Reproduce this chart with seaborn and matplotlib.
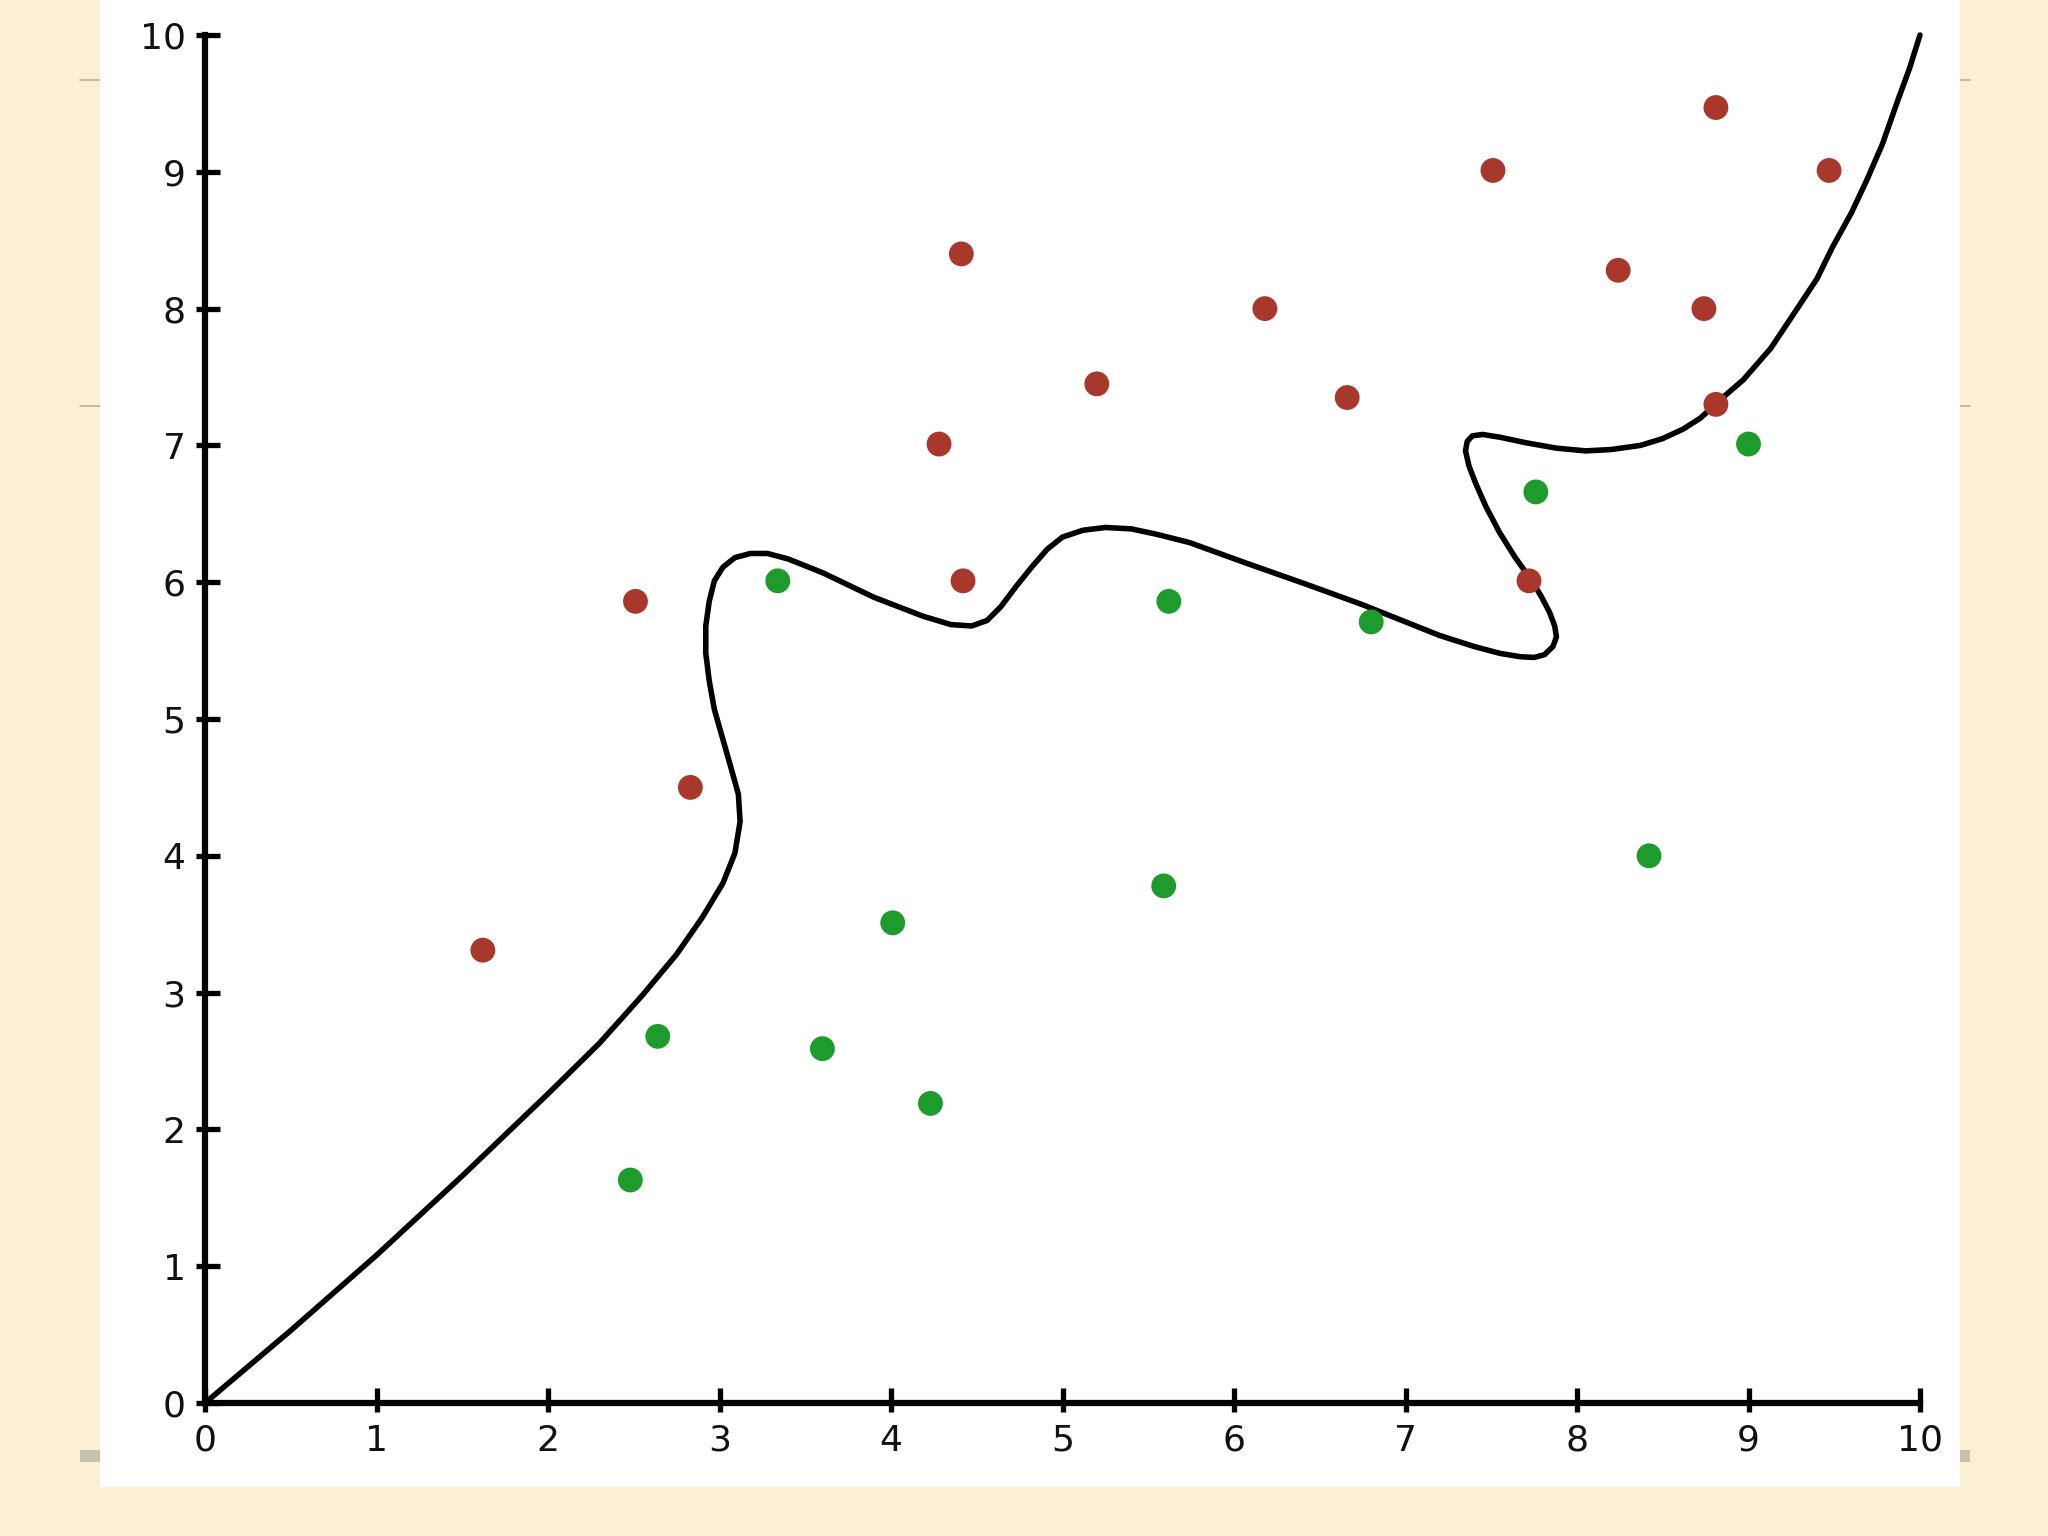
import matplotlib
matplotlib.use("Agg")
import matplotlib.pyplot as plt
from matplotlib.patches import Rectangle
from matplotlib.lines import Line2D
from matplotlib.ticker import FixedLocator
import seaborn as sns
import pandas as pd

# ---------------- data ----------------
red_x = [1.62, 2.51, 2.83, 4.41, 4.28, 4.42, 5.20, 6.18, 6.66, 7.51, 7.72, 8.24, 8.74, 8.81, 8.81, 9.47]
red_y = [3.31, 5.86, 4.50, 8.40, 7.01, 6.01, 7.45, 8.00, 7.35, 9.01, 6.01, 8.28, 8.00, 9.47, 7.30, 9.01]

green_x = [2.48, 2.64, 3.34, 3.60, 4.01, 4.23, 5.59, 5.62, 6.80, 7.76, 8.42, 9.00]
green_y = [1.63, 2.68, 6.01, 2.59, 3.51, 2.19, 3.78, 5.86, 5.71, 6.66, 4.00, 7.01]

# decision boundary (in drawing order)
curve_x = [0.00, 0.50, 1.00, 1.50, 2.00, 2.30, 2.55, 2.75, 2.90, 3.02, 3.09, 3.12,
           3.11, 3.07, 3.02, 2.97, 2.94, 2.92, 2.92, 2.94, 2.97, 3.02, 3.09, 3.18,
           3.28, 3.40, 3.60, 3.90, 4.19, 4.35, 4.47, 4.56, 4.64, 4.73, 4.82, 4.91,
           5.00, 5.12, 5.25, 5.40, 5.55, 5.74, 6.07, 6.41, 6.74, 7.00, 7.20, 7.40,
           7.55, 7.67, 7.75, 7.81, 7.86, 7.88, 7.87, 7.84, 7.79, 7.72, 7.64, 7.55,
           7.47, 7.41, 7.37, 7.35, 7.36, 7.39, 7.45, 7.55, 7.70, 7.88, 8.05, 8.20,
           8.37, 8.50, 8.62, 8.72, 8.85, 8.97, 9.13, 9.30, 9.40, 9.49, 9.60, 9.69,
           9.78, 9.87, 9.94, 10.00]
curve_y = [0.00, 0.53, 1.08, 1.66, 2.26, 2.63, 2.98, 3.28, 3.55, 3.80, 4.02, 4.25,
           4.45, 4.63, 4.85, 5.07, 5.28, 5.48, 5.68, 5.86, 6.01, 6.11, 6.18, 6.21,
           6.21, 6.17, 6.07, 5.89, 5.75, 5.69, 5.68, 5.72, 5.82, 5.97, 6.11, 6.24,
           6.33, 6.38, 6.40, 6.39, 6.35, 6.29, 6.14, 5.99, 5.84, 5.71, 5.61, 5.53,
           5.48, 5.455, 5.45, 5.47, 5.53, 5.60, 5.68, 5.78, 5.90, 6.04, 6.18, 6.36,
           6.55, 6.72, 6.85, 6.96, 7.03, 7.07, 7.08, 7.06, 7.02, 6.98, 6.96, 6.97,
           7.00, 7.05, 7.12, 7.20, 7.35, 7.48, 7.71, 8.03, 8.22, 8.45, 8.70, 8.94,
           9.20, 9.52, 9.76, 10.00]

ticks = [0, 1, 2, 3, 4, 5, 6, 7, 8, 9, 10]
tick_labels = [str(t) for t in ticks]

# ---------------- style ----------------
sns.set_style("white")
plt.rcParams["font.family"] = ["DejaVu Sans"]

CREAM = "#F9F0D6"
RED = "#A8382C"
GREEN = "#1E9B2D"

fig = plt.figure(figsize=(20.48, 15.36), dpi=100, facecolor=CREAM)

# white slide panel (behind the axes)
fig.patches.append(Rectangle((0.0488, 0.0319), 0.9082, 0.9681, transform=fig.transFigure,
                             facecolor="white", edgecolor="none", zorder=-5))
# small decorations around the panel
for yy in (0.948, 0.7357):
    fig.add_artist(Line2D([0.039, 0.0488], [yy, yy], transform=fig.transFigure,
                          color="#B8B0A0", lw=1.2, zorder=-5))
    fig.add_artist(Line2D([0.957, 0.962], [yy, yy], transform=fig.transFigure,
                          color="#B8B0A0", lw=1.2, zorder=-5))
fig.patches.append(Rectangle((0.039, 0.0482), 0.0098, 0.0078, transform=fig.transFigure,
                             facecolor="#C9C1B0", edgecolor="none", zorder=-5))
fig.patches.append(Rectangle((0.957, 0.0482), 0.005, 0.0078, transform=fig.transFigure,
                             facecolor="#C9C1B0", edgecolor="none", zorder=-5))

ax = fig.add_axes([0.1001, 0.0866, 0.8374, 0.8906], zorder=2)
ax.set_facecolor("none")
ax.patch.set_alpha(0)

pts = pd.DataFrame({
    "x": red_x + green_x,
    "y": red_y + green_y,
    "cls": ["red"] * len(red_x) + ["green"] * len(green_x),
})
curve = pd.DataFrame({"x": curve_x, "y": curve_y})

sns.lineplot(data=curve, x="x", y="y", sort=False, estimator=None, color="black",
             lw=4.0, ax=ax, clip_on=False, solid_joinstyle="round",
             solid_capstyle="round", zorder=3)
sns.scatterplot(data=pts, x="x", y="y", hue="cls", palette={"red": RED, "green": GREEN},
                s=320, linewidth=0, ax=ax, legend=False, zorder=4, clip_on=False)

ax.set_xlim(0, 10)
ax.set_ylim(0, 10)
ax.set_xlabel("")
ax.set_ylabel("")

for side in ("top", "right"):
    ax.spines[side].set_visible(False)
for side in ("left", "bottom"):
    ax.spines[side].set_linewidth(4.5)
    ax.spines[side].set_color("black")
    ax.spines[side].set_capstyle("projecting")

ax.set_xticks(ticks)
ax.set_yticks(ticks)
ax.set_xticklabels(tick_labels)
ax.set_yticklabels(tick_labels)
ax.xaxis.set_minor_locator(FixedLocator(ticks))
ax.yaxis.set_minor_locator(FixedLocator(ticks))
ax.xaxis.remove_overlapping_locs = False
ax.yaxis.remove_overlapping_locs = False

ax.tick_params(which="major", direction="in", length=10.6, width=3.8, color="black",
               labelsize=26, labelcolor="#111111")
ax.tick_params(which="minor", direction="out", length=6.3, width=3.8, color="black")
ax.tick_params(axis="y", which="major", pad=14)
ax.tick_params(axis="x", which="major", pad=15)
ax.tick_params(left=True, bottom=True, which="both")

fig.savefig("out.png", dpi=100, facecolor=CREAM)
